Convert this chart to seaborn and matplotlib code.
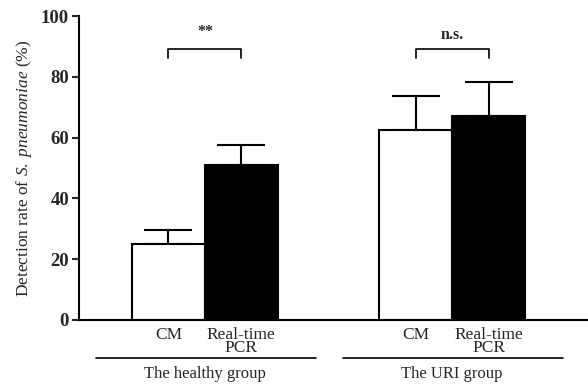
import pandas as pd
import numpy as np
import matplotlib
matplotlib.use('Agg')
import matplotlib.pyplot as plt
import seaborn as sns

# data
groups = ['The healthy group', 'The URI group']
methods = ['CM', 'Real-time\nPCR']
rate_cm = [25.0, 62.5]
rate_pcr = [51.0, 67.0]
err_cm = [4.6, 11.2]
err_pcr = [6.6, 11.3]
sig_labels = ['**', 'n.s.']

df = pd.DataFrame({
    'group': groups * 2,
    'method': [methods[0]] * 2 + [methods[1]] * 2,
    'rate': rate_cm + rate_pcr,
    'err': err_cm + err_pcr,
})

sns.set_theme(style='white')
plt.rcParams['font.family'] = ['Liberation Serif', 'DejaVu Serif']
plt.rcParams['mathtext.fontset'] = 'custom'
plt.rcParams['mathtext.rm'] = 'Liberation Serif'
plt.rcParams['mathtext.it'] = 'Liberation Serif:italic'

fig = plt.figure(figsize=(5.88, 3.84), dpi=100)
ax = fig.add_axes([0.134, 0.167, 0.866, 0.791])

bar_w = 0.59
sns.barplot(data=df, x='group', y='rate', hue='method', order=groups,
            hue_order=methods, palette=['white', 'black'], edgecolor='black',
            linewidth=1.5, width=bar_w, gap=0, legend=False, ax=ax)

# upper-only error bars, matched to the bars sorted left to right
bars = sorted(ax.patches, key=lambda p: p.get_x())
centers = [p.get_x() + p.get_width() / 2 for p in bars]
tops = [p.get_height() for p in bars]
errs = [err_cm[0], err_pcr[0], err_cm[1], err_pcr[1]]
ax.errorbar(centers, tops, yerr=[np.zeros(4), errs], fmt='none', ecolor='black',
            elinewidth=1.5, capsize=17, capthick=1.5, zorder=0)

# significance brackets
for i, lab in enumerate(sig_labels):
    x0, x1 = centers[2 * i], centers[2 * i + 1]
    ax.plot([x0, x0, x1, x1], [86.2, 89.1, 89.1, 86.2], color='black', lw=1.2)
    ax.text((x0 + x1) / 2, 91 if lab == 'n.s.' else 92, lab, ha='center', va='bottom',
            fontsize=11.5, fontweight='bold')

ax.set_ylim(0, 100)
ax.set_xlim(-0.51, 1.55)
ax.set_yticks([0, 20, 40, 60, 80, 100])
ax.set_yticklabels(['0', '20', '40', '60', '80', '100'], fontsize=13.5, fontweight='bold')
ax.set_xticks(centers)
ax.set_xticklabels(methods * 2, fontsize=12.5, linespacing=0.78)
ax.tick_params(axis='x', length=0, pad=5)
ax.tick_params(axis='y', length=5, width=1.5, direction='out', left=True, pad=2)
ax.set_xlabel('')
ax.set_ylabel(r'Detection rate of $\it{S.\ pneumoniae}$ (%)', fontsize=12.5, labelpad=5)

sns.despine(ax=ax)
for s in ['left', 'bottom']:
    ax.spines[s].set_linewidth(1.5)
    ax.spines[s].set_color('black')

# group underlines and labels below the axis
trans = ax.get_xaxis_transform()
for i, g in enumerate(groups):
    ax.plot([i - 0.44, i + 0.45], [-0.125, -0.125], color='black', lw=1.2,
            transform=trans, clip_on=False)
    ax.text(i, -0.178, g, ha='center', va='center', fontsize=12, transform=trans)

fig.savefig('out.png', dpi=100)
